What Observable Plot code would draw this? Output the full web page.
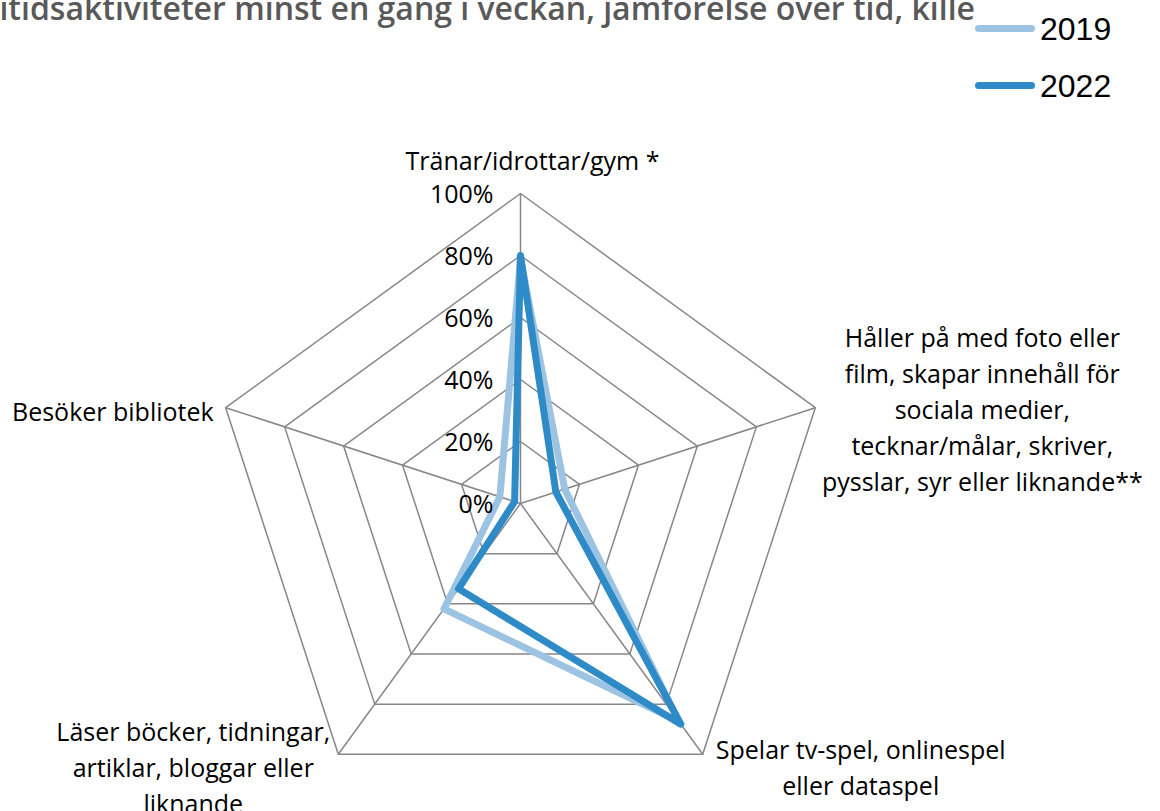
<!DOCTYPE html>
<html>
<head>
<meta charset="utf-8">
<script src="https://cdn.jsdelivr.net/npm/d3@7"></script>
<script src="https://cdn.jsdelivr.net/npm/@observablehq/plot@0.6"></script>
<style>
  html, body { margin: 0; padding: 0; background: #fff; width: 1160px; height: 811px; overflow: hidden; }
  #wrap { position: relative; width: 1160px; height: 811px; }
  #chart { position: absolute; left: 0; top: 0; }
  #title { position: absolute; right: 185px; top: -8px; white-space: nowrap; font-family: "Open Sans", sans-serif; font-weight: 600; font-size: 32px; line-height: 1; color: #595959; }
  .leg { position: absolute; left: 975px; width: 60px; height: 7px; border-radius: 4px; }
  .legt { position: absolute; left: 1040px; font-family: "Liberation Sans", Arial, sans-serif; font-size: 32px; line-height: 1; color: #000; }
</style>
</head>
<body>
<div id="wrap">
  <div id="chart"></div>
  <div id="title"></div>
  <div id="legend"></div>
</div>
<script>
const title = "Fritidsaktiviteter minst en gång i veckan, jämförelse över tid, kille";
const categories = [
  "Tränar/idrottar/gym *",
  "Håller på med foto eller\nfilm, skapar innehåll för\nsociala medier,\ntecknar/målar, skriver,\npysslar, syr eller liknande**",
  "Spelar tv-spel, onlinespel\neller dataspel",
  "Läser böcker, tidningar,\nartiklar, bloggar eller\nliknande",
  "Besöker bibliotek"
];
const seriesNames = ["2019", "2022"];
const values2019 = [79, 15, 87, 42, 7];
const values2022 = [80, 12, 88, 34, 2];
const seriesColors = ["#9DC3E2", "#2E8BC7"];
const tickLevels = [0, 20, 40, 60, 80, 100];
const tickLabels = ["0%", "20%", "40%", "60%", "80%", "100%"];

const n = categories.length;
const angle = i => (2 * Math.PI * i) / n;
const px = (i, v) => v * Math.sin(angle(i));
const py = (i, v) => v * Math.cos(angle(i));

const series = [
  ...values2019.map((v, i) => ({series: seriesNames[0], i, v})),
  ...values2022.map((v, i) => ({series: seriesNames[1], i, v}))
];
const gridRings = tickLevels.filter(l => l > 0).flatMap(l => categories.map((c, i) => ({level: l, i})));
const spokes = categories.map((c, i) => ({i}));
const ticks = tickLevels.map((l, k) => ({level: l, label: tickLabels[k]}));

// label placement styles (pixel offsets from the 100% vertex)
const labelStyle = [
  {dx: 12, dy: -35, anchor: "middle"},
  {dx: 167, dy: 0, anchor: "middle"},
  {dx: 158, dy: 11, anchor: "middle"},
  {dx: -145, dy: 11, anchor: "middle"},
  {dx: -12, dy: 2, anchor: "end"}
];

const k = 3.1; // px per percent
const cx = 520, cy = 503, W = 1160, H = 811;

const plot = Plot.plot({
  width: W,
  height: H,
  margin: 0,
  x: {domain: [-cx / k, (W - cx) / k], axis: null},
  y: {domain: [-(H - cy) / k, cy / k], axis: null},
  style: {fontFamily: "'Open Sans', sans-serif", fontSize: "25px", color: "#000", background: "transparent"},
  marks: [
    Plot.line(gridRings, {x: d => px(d.i, d.level), y: d => py(d.i, d.level), z: "level", curve: "linear-closed", stroke: "#878787", strokeWidth: 1.5}),
    Plot.link(spokes, {x1: 0, y1: 0, x2: d => px(d.i, 100), y2: d => py(d.i, 100), stroke: "#878787", strokeWidth: 1.5}),
    Plot.line(series, {x: d => px(d.i, d.v), y: d => py(d.i, d.v), z: "series", stroke: "series", curve: "linear-closed", strokeWidth: 7, strokeLinejoin: "round", strokeLinecap: "round"}),
    ...categories.map((c, i) => Plot.text([c], {
      x: () => px(i, 100), y: () => py(i, 100), text: d => d,
      dx: labelStyle[i].dx, dy: labelStyle[i].dy, textAnchor: labelStyle[i].anchor,
      lineAnchor: "middle", lineHeight: 1.44, fill: "#000", fontSize: 25
    })),
    Plot.text(ticks, {x: 0, y: "level", text: "label", textAnchor: "end", dx: -27, dy: 1, fill: "#000", fontSize: 25})
  ],
  color: {domain: seriesNames, range: seriesColors}
});
document.getElementById("chart").appendChild(plot);
document.getElementById("title").textContent = title;

const leg = document.getElementById("legend");
const legY = [28, 85];
seriesNames.forEach((s, j) => {
  const l = document.createElement("div");
  l.className = "leg";
  l.style.top = (legY[j] - 3.5) + "px";
  l.style.background = seriesColors[j];
  leg.appendChild(l);
  const t = document.createElement("div");
  t.className = "legt";
  t.style.top = (legY[j] - 15) + "px";
  t.textContent = s;
  leg.appendChild(t);
});
</script>
</body>
</html>
